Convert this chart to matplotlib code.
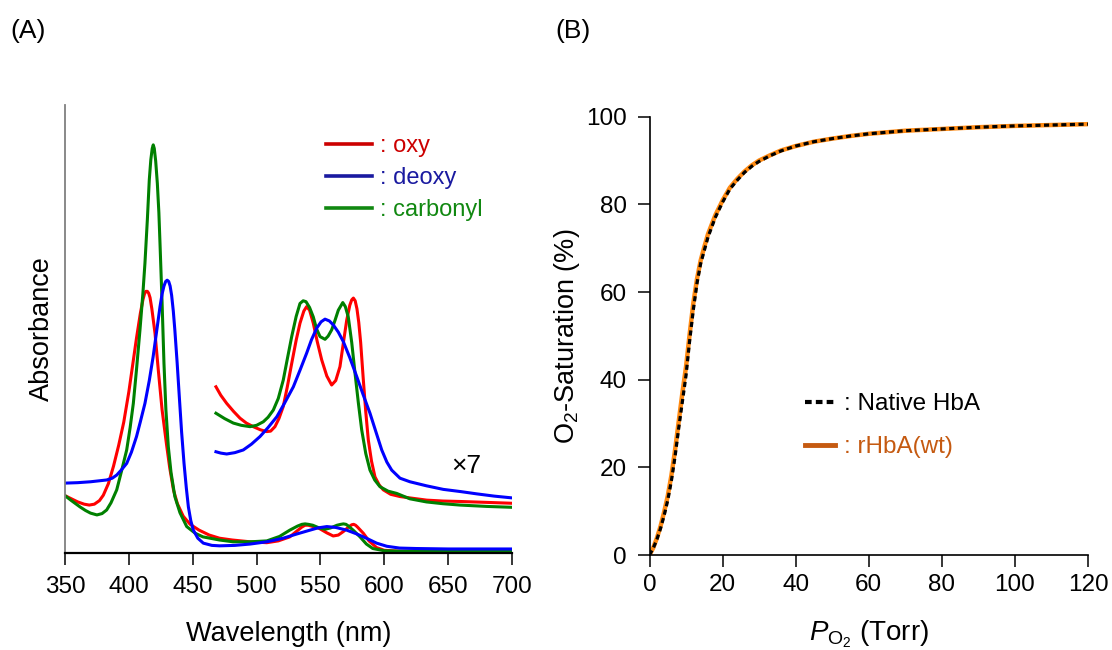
import matplotlib
matplotlib.use("Agg")
import matplotlib.pyplot as plt
from matplotlib.lines import Line2D

plt.rcParams['font.family'] = ['Liberation Sans', 'DejaVu Sans']
plt.rcParams['mathtext.fontset'] = 'custom'
plt.rcParams['mathtext.rm'] = 'Liberation Sans'
plt.rcParams['mathtext.it'] = 'Liberation Sans:italic'

# ---------------- (A) UV-vis spectra (arbitrary absorbance units) ----------------
wl_oxy = [350, 355, 360, 365, 369, 373, 377, 380, 384, 388, 392, 396, 400, 403, 406, 409,
          411, 412.2, 413.3, 414.5, 415.5, 416.6, 418, 420.5, 423, 426, 429.6, 432, 435, 438,
          442.6, 448, 455, 463, 471, 481, 495, 508, 517, 526, 532, 535.5, 538, 540.5, 543, 549,
          555, 560, 564, 568, 572, 574.5, 576, 577.5, 579, 583.6, 588, 594, 600, 612, 650, 700]
abs_oxy = [.128, .121, .114, .109, .107, .109, .117, .129, .155, .194, .240, .292, .360, .420,
           .480, .535, .565, .578, .584, .584, .580, .570, .545, .490, .410, .320, .240, .190,
           .140, .110, .082, .064, .051, .040, .033, .029, .025, .023, .027, .036, .050, .058,
           .062, .062, .060, .055, .045, .038, .040, .048, .058, .063, .064, .062, .058, .044,
           .027, .012, .006, .004, .004, .004]

wl_deoxy = [350, 360, 370, 382.6, 387, 390.5, 394, 398.3, 402, 406, 409, 412.6, 416, 419, 422,
            424.4, 426, 427.5, 428.8, 430, 431.2, 432.3, 433.5, 434.8, 436, 437.8, 439.5, 441.3,
            443.2, 445, 446.6, 448.5, 450.5, 454, 458.3, 465, 471, 483, 495, 508, 520.8, 531,
            541.8, 548, 555, 562, 570.6, 578, 586, 594, 602, 612, 625, 650, 700]
abs_deoxy = [.156, .157, .159, .163, .167, .174, .185, .200, .225, .260, .293, .334, .385, .438,
             .500, .550, .578, .596, .606, .609, .606, .596, .575, .540, .498, .425, .349, .270,
             .200, .145, .103, .072, .051, .033, .022, .017, .016, .017, .020, .025, .033, .042,
             .051, .056, .059, .057, .051, .043, .033, .022, .015, .011, .010, .009, .009]

wl_co = [350, 355, 361.7, 366, 370, 375, 379, 382.6, 386, 390.5, 394, 398.3, 401, 403.5, 406,
         408.7, 411, 412.6, 414.5, 416, 417.2, 418.3, 419.1, 419.9, 421, 422.3, 423.5, 424.4,
         426, 427.5, 429, 430.9, 433, 436, 440, 445.3, 452, 458, 471, 481.6, 495, 508, 518, 526,
         532, 535.5, 538, 540.5, 544, 549, 553.6, 558, 563, 566, 568, 570, 572, 576, 581, 586,
         591, 600, 612, 700]
abs_co = [.128, .117, .103, .095, .089, .085, .088, .096, .112, .141, .180, .230, .280, .334,
          .410, .498, .580, .647, .745, .833, .878, .903, .911, .903, .875, .825, .760, .690,
          .560, .423, .320, .237, .180, .126, .090, .059, .044, .036, .029, .025, .025, .027,
          .037, .051, .060, .064, .065, .064, .062, .056, .053, .056, .062, .064, .065, .064,
          .060, .050, .036, .020, .010, .005, .004, .004]

# Q-band region magnified seven times
wl_oxy_x7 = [468.2, 472, 476.6, 482, 487, 492, 497.4, 503, 507.9, 511, 514.4, 517.5, 520.9, 524,
             527.5, 531, 534, 537, 539.2, 541.5, 544.4, 547.5, 551, 555, 558.8, 562, 565.3, 568,
             570.6, 573, 574.5, 575.8, 577.2, 578.6, 580, 581.5, 583.6, 585.5, 587.5, 590, 592.7,
             596, 599.2, 605, 612.3, 620, 633.2, 646, 659.3, 680, 700]
abs_oxy_x7 = [.371, .352, .334, .316, .301, .290, .282, .275, .271, .272, .282, .300, .327, .370,
              .423, .475, .513, .540, .550, .542, .513, .472, .431, .395, .375, .385, .416, .470,
              .520, .553, .565, .569, .563, .545, .515, .470, .386, .315, .252, .205, .170,
              .152, .141, .131, .126, .123, .118, .116, .115, .113, .111]

wl_deoxy_x7 = [468.2, 472, 476.6, 483, 489.6, 496, 502.7, 509, 515.8, 522, 528.8, 534, 539.2,
               543, 547.1, 550.5, 553.6, 557, 560.1, 564, 567.9, 573, 578.4, 583.5, 588.8, 593.5,
               598, 602, 605.8, 612.3, 620.1, 633, 646.2, 660, 672.4, 686, 700]
abs_deoxy_x7 = [.226, .223, .221, .224, .230, .243, .260, .280, .304, .335, .371, .408, .446,
                .476, .502, .516, .522, .518, .509, .493, .472, .436, .394, .353, .312, .270,
                .230, .203, .185, .167, .159, .150, .142, .137, .132, .127, .123]

wl_co_x7 = [468.2, 475, 481.8, 488, 494.9, 500, 505.3, 509, 513.1, 517, 520.9, 524, 527.5, 531,
            534, 536.5, 538.7, 541.5, 544.4, 547, 549.7, 553.6, 556, 558.8, 561.5, 564, 567.5,
            569.5, 571.8, 574.5, 577.1, 579.7, 582.3, 585.5, 588.8, 592.5, 596.6, 603, 609.7,
            620, 633, 646, 659.3, 680, 700]
abs_co_x7 = [.312, .300, .290, .285, .282, .285, .293, .303, .319, .345, .386, .432, .483, .528,
             .557, .563, .561, .548, .527, .500, .483, .477, .484, .498, .520, .542, .559, .550,
             .527, .470, .401, .335, .275, .222, .185, .163, .148, .138, .133, .121, .114, .110,
             .107, .104, .102]

wl_ticks = [350, 400, 450, 500, 550, 600, 650, 700]
spectra_names = [': oxy', ': deoxy', ': carbonyl']

# ---------------- (B) O2 equilibrium curves ----------------
po2 = [0, 1, 2, 3, 4, 5, 6, 7, 8, 9, 10, 11, 12, 13, 14, 15, 16, 18, 20, 22, 24, 26, 28, 30,
       33, 36, 40, 45, 50, 55, 60, 70, 80, 90, 100, 110, 120]
sat_native = [0, 1.5, 3.5, 6, 9, 12.5, 17, 22.5, 29, 35, 41, 49, 56, 62, 66.5, 69.5, 72.5, 77,
              80.5, 83.5, 85.5, 87.3, 88.7, 89.8, 91.1, 92.2, 93.3, 94.3, 95.0, 95.6, 96.1,
              96.8, 97.2, 97.6, 97.9, 98.1, 98.3]
sat_rhba = [0, 1.6, 3.8, 6.5, 9.8, 13.5, 18.2, 24, 30.5, 37, 43, 50.5, 57.5, 63, 67.2, 70.3,
            73.2, 77.5, 80.9, 83.8, 85.8, 87.5, 88.9, 90.0, 91.2, 92.3, 93.3, 94.3, 95.0, 95.6,
            96.1, 96.8, 97.2, 97.6, 97.9, 98.1, 98.3]
po2_ticks = [0, 20, 40, 60, 80, 100, 120]
sat_ticks = [0, 20, 40, 60, 80, 100]
ec_names = [': Native HbA', ': rHbA(wt)']

W, H = 1112, 650
fig = plt.figure(figsize=(W / 100, H / 100), dpi=100)

# ---------- panel A ----------
axA = fig.add_axes([65 / W, 97 / H, 447 / W, 448 / H])
line_red, line_blue, line_green = '#FF0000', '#0000FF', '#008000'
lw = 2.2
axA.plot(wl_oxy, abs_oxy, color=line_red, lw=lw)
axA.plot(wl_co, abs_co, color=line_green, lw=lw)
axA.plot(wl_deoxy, abs_deoxy, color=line_blue, lw=lw)
axA.plot(wl_oxy_x7, abs_oxy_x7, color=line_red, lw=lw)
axA.plot(wl_co_x7, abs_co_x7, color=line_green, lw=lw)
axA.plot(wl_deoxy_x7, abs_deoxy_x7, color=line_blue, lw=lw)

axA.set_xlim(350, 700)
axA.set_ylim(0, 1)
axA.set_xticks(wl_ticks)
axA.set_yticks([])
for s in ('top', 'right'):
    axA.spines[s].set_visible(False)
axA.spines['left'].set_color('#808080')
axA.spines['left'].set_linewidth(1.3)
axA.spines['bottom'].set_linewidth(1.6)
axA.tick_params(axis='x', direction='out', length=8.5, width=1.1, pad=8, labelsize=17.5)
axA.set_xlabel('Wavelength (nm)', fontsize=19.5)
axA.xaxis.set_label_coords(0.5, -0.152)
axA.set_ylabel('Absorbance', fontsize=19.5)
axA.yaxis.set_label_coords(-0.022, 0.5)
axA.text(0.897, 0.194, '\u00d77', transform=axA.transAxes, ha='center', va='center',
         fontsize=19)

leg_cols = ['#CC0000', '#1A1AA0', '#118811']
handles = [Line2D([], [], color=c, lw=2.6) for c in leg_cols]
legA = axA.legend(handles, spectra_names, loc='upper left',
                  bbox_to_anchor=(326 / W, 1 - 135 / H), bbox_transform=fig.transFigure,
                  frameon=False, fontsize=17, handlelength=1.95, handletextpad=0.35,
                  labelspacing=0.42, borderpad=0, borderaxespad=0)
for t, c in zip(legA.get_texts(), leg_cols):
    t.set_color(c)

# ---------- panel B ----------
axB = fig.add_axes([649.5 / W, 95 / H, 438.5 / W, 438.3 / H])
axB.plot(po2, sat_rhba, color='#FF8A12', lw=3.2, solid_capstyle='butt')
axB.plot(po2, sat_native, color='black', lw=2.3, linestyle=(0, (1.6, 1.1)),
         dash_capstyle='butt')
axB.set_xlim(0, 120)
axB.set_ylim(0, 100)
axB.set_xticks(po2_ticks)
axB.set_yticks(sat_ticks)
for s in ('top', 'right'):
    axB.spines[s].set_visible(False)
for s in ('left', 'bottom'):
    axB.spines[s].set_linewidth(1.2)
axB.tick_params(direction='out', length=8.5, width=1.1, labelsize=17.5)
axB.tick_params(axis='x', pad=5)
axB.tick_params(axis='y', pad=8)
axB.set_xlabel(r'$P_{\mathrm{O}_2}$ (Torr)', fontsize=20)
axB.xaxis.set_label_coords(0.5, -0.145)
axB.set_ylabel(r'O$_2$-Saturation (%)', fontsize=19.5)
axB.yaxis.set_label_coords(-0.154, 0.5)

hB = [Line2D([], [], color='black', lw=3.0, linestyle=(0, (1.6, 1.0))),
      Line2D([], [], color='#C55A11', lw=3.5)]
legB = axB.legend(hB, ec_names, loc='upper left',
                  bbox_to_anchor=(805 / W, 1 - 393 / H), bbox_transform=fig.transFigure,
                  frameon=False, fontsize=17.5, handlelength=1.25, handletextpad=0.35,
                  labelspacing=0.88, borderpad=0, borderaxespad=0)
for t, c in zip(legB.get_texts(), ['black', '#C55A11']):
    t.set_color(c)

fig.text(10 / W, 1 - 31 / H, '(A)', fontsize=19, va='center', ha='left')
fig.text(555 / W, 1 - 31 / H, '(B)', fontsize=19, va='center', ha='left')

fig.savefig('out.png', dpi=100)
